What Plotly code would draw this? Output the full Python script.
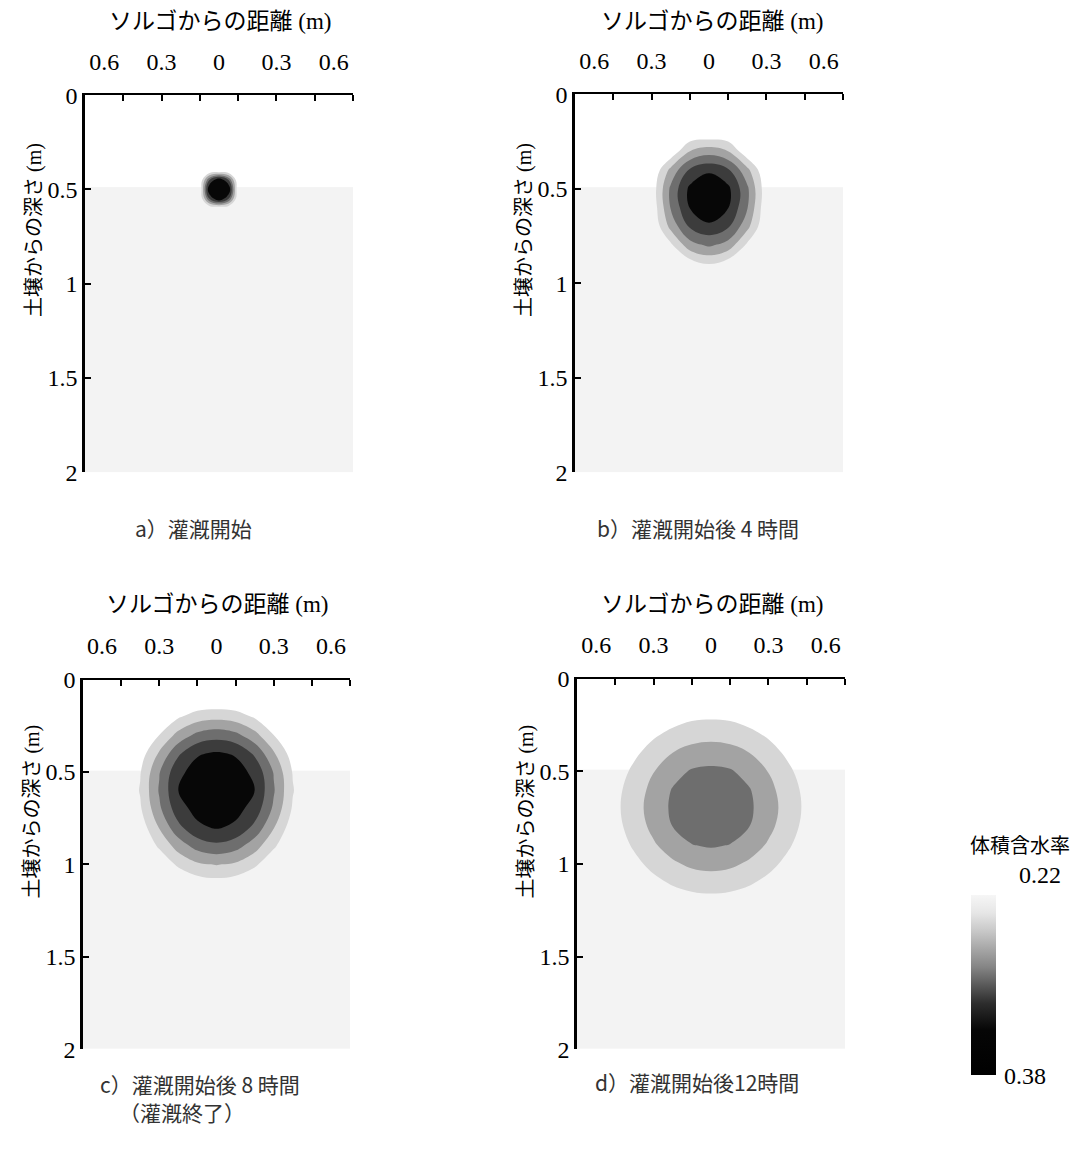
import plotly.graph_objects as go

# ---------------- data ----------------
x_range = [-0.7, 0.7]          # distance from sorghum (m)
depth_range = [2.0, 0.0]       # depth (m), reversed
x_tickvals = [-0.6, -0.3, 0, 0.3, 0.6]
x_ticktext = ["0.6", "0.3", "0", "0.3", "0.6"]
x_minorvals = [-0.5, -0.3, -0.1, 0.1, 0.3, 0.5, 0.7]
y_tickvals = [0, 0.5, 1, 1.5, 2]
y_ticktext = ["0", "0.5", "1", "1.5", "2"]

# initial soil layers (volumetric water content)
layer_x_edges = [-0.7, 0.7]
layer_depth_edges = [0.0, 0.49, 2.0]
layer_theta = [0.21, 0.23]

# contour levels
level_start, level_end, level_step = 0.24, 0.36, 0.03
cbar_min, cbar_max = 0.22, 0.38

# a) start of irrigation
a_x = [-0.1, -0.05, 0.0, 0.05, 0.1]
a_y = [0.4, 0.45, 0.5, 0.55, 0.6]
a_z = [
    [0.21, 0.21, 0.21, 0.21, 0.21],
    [0.21, 0.33, 0.39, 0.33, 0.21],
    [0.21, 0.39, 0.40, 0.39, 0.21],
    [0.21, 0.33, 0.39, 0.33, 0.21],
    [0.21, 0.21, 0.21, 0.21, 0.21],
]

# b) 4 h after start
b_x = [-0.4, -0.3, -0.2, -0.1, 0.0, 0.1, 0.2, 0.3, 0.4]
b_y = [0.1, 0.2, 0.3, 0.4, 0.5, 0.6, 0.7, 0.8, 0.9, 1.0]
b_z = [
    [0.21, 0.21, 0.21, 0.21, 0.21, 0.21, 0.21, 0.21, 0.21],
    [0.21, 0.21, 0.21, 0.21, 0.21, 0.21, 0.21, 0.21, 0.21],
    [0.21, 0.21, 0.215, 0.269, 0.285, 0.269, 0.215, 0.21, 0.21],
    [0.21, 0.21, 0.278, 0.333, 0.352, 0.333, 0.278, 0.21, 0.21],
    [0.21, 0.219, 0.306, 0.367, 0.397, 0.367, 0.306, 0.219, 0.21],
    [0.21, 0.215, 0.302, 0.361, 0.391, 0.361, 0.302, 0.215, 0.21],
    [0.21, 0.21, 0.279, 0.334, 0.352, 0.334, 0.279, 0.21, 0.21],
    [0.21, 0.21, 0.233, 0.287, 0.304, 0.287, 0.233, 0.21, 0.21],
    [0.21, 0.21, 0.21, 0.222, 0.239, 0.222, 0.21, 0.21, 0.21],
    [0.21, 0.21, 0.21, 0.21, 0.21, 0.21, 0.21, 0.21, 0.21],
]

# c) 8 h after start (end of irrigation)
c_x = [-0.5, -0.4, -0.3, -0.2, -0.1, 0.0, 0.1, 0.2, 0.3, 0.4, 0.5]
c_y = [0.1, 0.2, 0.3, 0.4, 0.5, 0.6, 0.7, 0.8, 0.9, 1.0, 1.1, 1.2]
c_z = [
    [0.21, 0.21, 0.21, 0.21, 0.21, 0.21, 0.21, 0.21, 0.21, 0.21, 0.21],
    [0.21, 0.21, 0.21, 0.236, 0.254, 0.26, 0.254, 0.236, 0.21, 0.21, 0.21],
    [0.21, 0.21, 0.24, 0.28, 0.308, 0.318, 0.308, 0.28, 0.24, 0.21, 0.21],
    [0.21, 0.225, 0.274, 0.325, 0.357, 0.364, 0.357, 0.325, 0.274, 0.225, 0.21],
    [0.21, 0.238, 0.298, 0.353, 0.372, 0.377, 0.372, 0.353, 0.298, 0.238, 0.21],
    [0.21, 0.242, 0.303, 0.36, 0.375, 0.38, 0.375, 0.36, 0.303, 0.242, 0.21],
    [0.21, 0.236, 0.294, 0.348, 0.37, 0.375, 0.37, 0.348, 0.294, 0.236, 0.21],
    [0.21, 0.222, 0.272, 0.322, 0.354, 0.363, 0.354, 0.322, 0.272, 0.222, 0.21],
    [0.21, 0.21, 0.245, 0.283, 0.312, 0.323, 0.312, 0.283, 0.245, 0.21, 0.21],
    [0.21, 0.21, 0.216, 0.246, 0.265, 0.272, 0.265, 0.246, 0.216, 0.21, 0.21],
    [0.21, 0.21, 0.21, 0.21, 0.224, 0.229, 0.224, 0.21, 0.21, 0.21, 0.21],
    [0.21, 0.21, 0.21, 0.21, 0.21, 0.21, 0.21, 0.21, 0.21, 0.21, 0.21],
]

# d) 12 h after start
d_x = [-0.6, -0.5, -0.4, -0.3, -0.2, -0.1, 0.0, 0.1, 0.2, 0.3, 0.4, 0.5, 0.6]
d_y = [0.1, 0.2, 0.3, 0.4, 0.5, 0.6, 0.7, 0.8, 0.9, 1.0, 1.1, 1.2, 1.3, 1.4]
d_z = [
    [0.21, 0.21, 0.21, 0.21, 0.21, 0.21, 0.21, 0.21, 0.21, 0.21, 0.21, 0.21, 0.21],
    [0.21, 0.21, 0.21, 0.214, 0.225, 0.233, 0.235, 0.233, 0.225, 0.214, 0.21, 0.21, 0.21],
    [0.21, 0.21, 0.218, 0.235, 0.248, 0.257, 0.26, 0.257, 0.248, 0.235, 0.218, 0.21, 0.21],
    [0.21, 0.213, 0.234, 0.253, 0.27, 0.281, 0.285, 0.281, 0.27, 0.253, 0.234, 0.213, 0.21],
    [0.21, 0.224, 0.247, 0.269, 0.289, 0.303, 0.306, 0.303, 0.289, 0.269, 0.247, 0.224, 0.21],
    [0.21, 0.231, 0.255, 0.279, 0.302, 0.313, 0.317, 0.313, 0.302, 0.279, 0.255, 0.231, 0.21],
    [0.21, 0.233, 0.258, 0.283, 0.305, 0.316, 0.32, 0.316, 0.305, 0.283, 0.258, 0.233, 0.21],
    [0.21, 0.23, 0.254, 0.278, 0.30, 0.312, 0.316, 0.312, 0.30, 0.278, 0.254, 0.23, 0.21],
    [0.21, 0.222, 0.245, 0.266, 0.285, 0.299, 0.303, 0.299, 0.285, 0.266, 0.245, 0.222, 0.21],
    [0.21, 0.211, 0.231, 0.25, 0.265, 0.276, 0.28, 0.276, 0.265, 0.25, 0.231, 0.211, 0.21],
    [0.21, 0.21, 0.214, 0.231, 0.244, 0.252, 0.255, 0.252, 0.244, 0.231, 0.214, 0.21, 0.21],
    [0.21, 0.21, 0.21, 0.21, 0.221, 0.228, 0.23, 0.228, 0.221, 0.21, 0.21, 0.21, 0.21],
    [0.21, 0.21, 0.21, 0.21, 0.21, 0.21, 0.21, 0.21, 0.21, 0.21, 0.21, 0.21, 0.21],
    [0.21, 0.21, 0.21, 0.21, 0.21, 0.21, 0.21, 0.21, 0.21, 0.21, 0.21, 0.21, 0.21],
]

x_title = "ソルゴからの距離 (m)"
y_title = "土壌からの深さ (m)"
captions = ["a）灌漑開始", "b）灌漑開始後 4 時間", "c）灌漑開始後 8 時間", "d）灌漑開始後12時間"]
caption_c2 = "（灌漑終了）"
cbar_title = "体積含水率"

# ---------------- styling / layout ----------------
W, H = 1078, 1154
SERIF = "Liberation Serif, Noto Sans CJK JP"
JP = "Noto Sans CJK JP"
INK = "#000000"

# panel boxes in pixels: left, right, top, bottom
boxes = [(85, 353, 84, 470), (575, 843, 83, 470), (83, 350, 682, 1060), (577, 845, 681, 1060)]

band_colorscale = [
    [0.0, "rgba(255,255,255,0)"],
    [0.2, "#d6d6d6"],
    [0.4, "#a3a3a3"],
    [0.6, "#6e6e6e"],
    [0.8, "#3c3c3c"],
    [1.0, "#070707"],
]
layer_colorscale = [[0, "#ffffff"], [1, "#f3f3f3"]]

fig = go.Figure()
panels = [(a_x, a_y, a_z), (b_x, b_y, b_z), (c_x, c_y, c_z), (d_x, d_y, d_z)]

for i, ((px, py, pz), box) in enumerate(zip(panels, boxes)):
    n = "" if i == 0 else str(i + 1)
    xa, ya = "x" + n, "y" + n
    fig.add_trace(go.Heatmap(
        x=layer_x_edges, y=layer_depth_edges, z=[[v] for v in layer_theta],
        colorscale=layer_colorscale, zmin=min(layer_theta), zmax=max(layer_theta),
        showscale=False, hoverinfo="skip", xaxis=xa, yaxis=ya))
    fig.add_trace(go.Contour(
        x=px, y=py, z=pz,
        contours=dict(start=level_start, end=level_end, size=level_step,
                      coloring="fill", showlines=False),
        line=dict(width=0, smoothing=1.1),
        colorscale=band_colorscale, showscale=False, hoverinfo="skip",
        xaxis=xa, yaxis=ya))
    l, r, t, b = box
    fig.update_layout(**{
        "xaxis" + n: dict(
            domain=[l / W, r / W], range=x_range, side="top", anchor=ya,
            showline=True, linecolor="black", linewidth=2,
            showgrid=False, zeroline=False,
            tickmode="array", tickvals=x_tickvals, ticktext=x_ticktext, ticks="",
            ticklabelstandoff=14,
            tickfont=dict(family=SERIF, size=24, color=INK),
            minor=dict(tickmode="array", tickvals=x_minorvals, ticks="inside",
                       ticklen=6, tickwidth=1.5, tickcolor="black", showgrid=False),
        ),
        "yaxis" + n: dict(
            domain=[1 - b / H, 1 - t / H], range=depth_range, anchor=xa,
            showline=True, linecolor="black", linewidth=2.5,
            showgrid=False, zeroline=False,
            tickmode="array", tickvals=y_tickvals, ticktext=y_ticktext,
            ticks="inside", ticklen=6, tickwidth=1.5, tickcolor="black",
            ticklabelstandoff=0,
            tickfont=dict(family=SERIF, size=24, color=INK),
        ),
    })

# dummy trace carrying the continuous colour bar (0.22 top .. 0.38 bottom)
fig.add_trace(go.Scatter(
    x=[None, None], y=[None, None], mode="markers", showlegend=False, hoverinfo="skip",
    marker=dict(
        color=[-cbar_max, -cbar_min], cmin=-cbar_max, cmax=-cbar_min,
        colorscale=[[0, "#000000"], [0.25, "#060606"], [0.40, "#2e2e2e"],
                    [0.60, "#858585"], [0.80, "#c8c8c8"], [0.90, "#e6e6e6"], [1, "#f6f6f6"]],
        showscale=True,
        colorbar=dict(x=971 / W, xanchor="left", y=1 - 994 / H, yanchor="middle",
                      len=184 / H, lenmode="fraction", thickness=25, thicknessmode="pixels",
                      xpad=0, ypad=0, outlinewidth=0, showticklabels=False, ticks=""),
    ),
    xaxis="x4", yaxis="y4"))


def paper_text(px_x, px_y, text, font, xanchor="center", angle=0):
    return dict(x=px_x / W, y=1 - px_y / H, xref="paper", yref="paper", text=text,
                showarrow=False, xanchor=xanchor, yanchor="middle", textangle=angle, font=font)


ann = []
for cx, cy in [(220, 9), (712, 9), (217, 605), (712, 605)]:
    ann.append(paper_text(cx, cy, x_title, dict(family=SERIF, size=23, color=INK)))
for cx, cy in [(35, 222), (525, 222), (33, 817), (527, 817)]:
    ann.append(paper_text(cx, cy, y_title, dict(family=SERIF, size=20, color=INK), angle=-90))
cap_font = dict(family=JP, size=21, color="#333333")
for txt, (cx, cy) in zip(captions, [(133, 527), (595, 527), (98, 1096), (593, 1094)]):
    ann.append(paper_text(cx, cy, txt, cap_font, xanchor="left"))
ann.append(paper_text(117, 1124, caption_c2, cap_font, xanchor="left"))
ann.append(paper_text(1020, 851, cbar_title, dict(family=JP, size=20, color=INK)))
ann.append(paper_text(1063, 882, f"{cbar_min:.2f}", dict(family=SERIF, size=24, color=INK), xanchor="right"))
ann.append(paper_text(1002, 1088, f"{cbar_max:.2f}", dict(family=SERIF, size=24, color=INK), xanchor="left"))

fig.update_layout(
    width=W, height=H, margin=dict(l=0, r=0, t=0, b=0),
    paper_bgcolor="white", plot_bgcolor="white",
    showlegend=False, annotations=ann,
)

fig.write_html("out.html")
